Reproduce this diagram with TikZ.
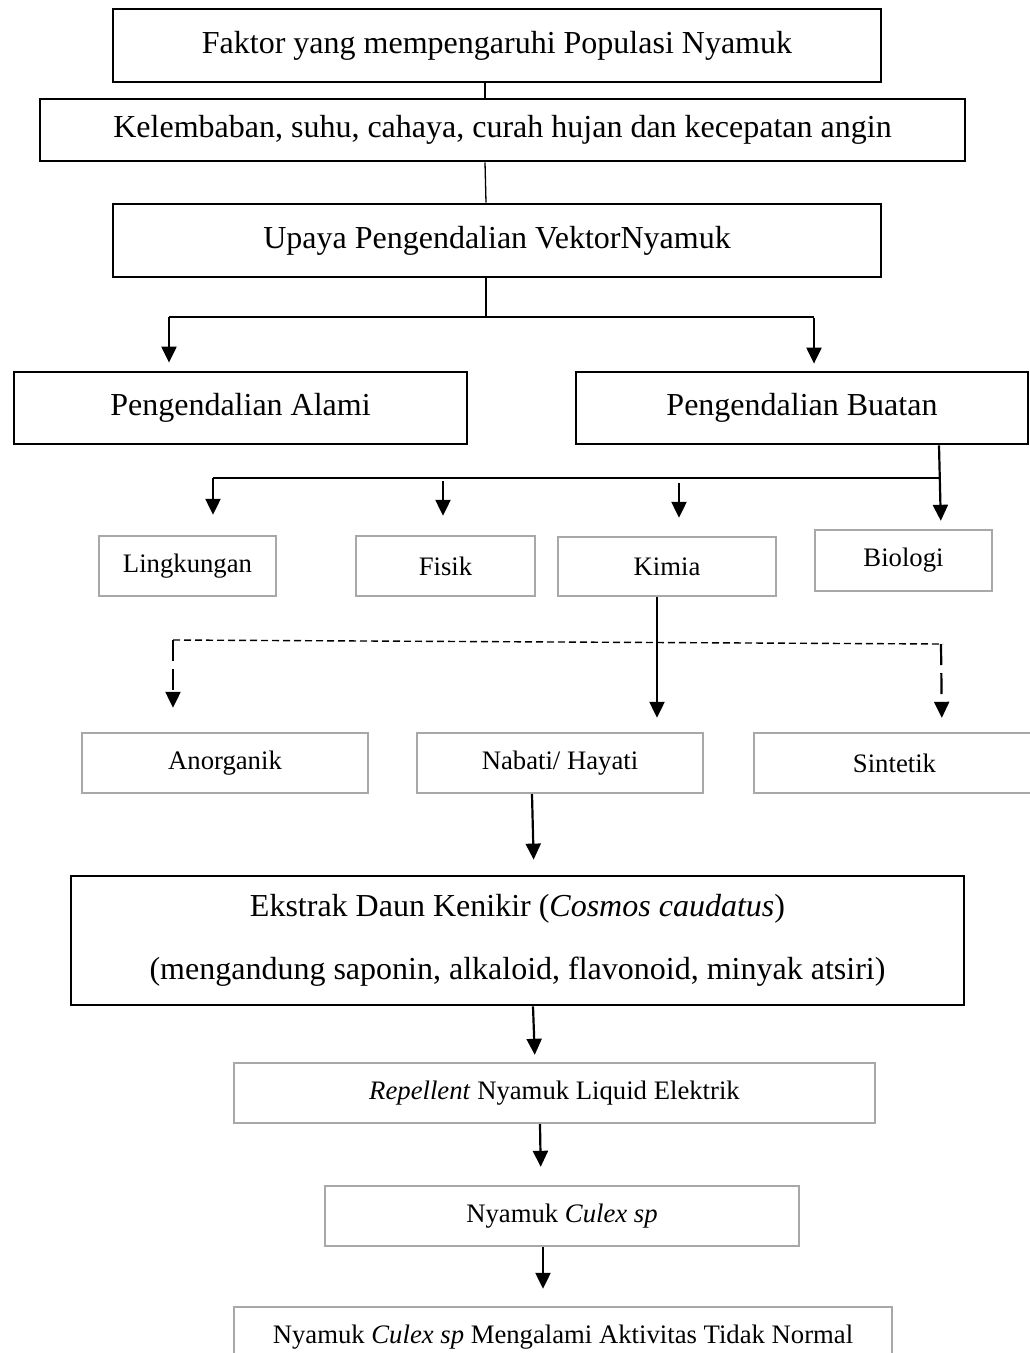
\documentclass[tikz,border=0pt]{standalone}
\usepackage{fontspec}
\setmainfont{Liberation Serif}
\usetikzlibrary{arrows.meta}
\definecolor{boxgray}{RGB}{168,168,168}
\begin{document}
\begin{tikzpicture}[x=1pt,y=-1pt,
  bigbox/.style={draw=black,line width=2.8pt,inner sep=0pt,font=\fontsize{32}{38}\selectfont},
  smallbox/.style={draw=boxgray,line width=2.4pt,inner sep=0pt,font=\fontsize{26.7}{32}\selectfont},
  thinline/.style={line width=1.3pt},
  arr/.style={line width=2.2pt,-{Triangle[length=16pt,width=15pt]}},
  dasharr/.style={line width=2.2pt,dash pattern=on 21pt off 8pt,-{Triangle[length=16pt,width=15pt]}},
  dashline/.style={line width=1.4pt,dash pattern=on 7pt off 4pt}]
\useasboundingbox (0,0) rectangle (1030,1353);
\fill[white] (0,0) rectangle (1030,1353);

% big boxes
\node[bigbox,minimum width=768pt,minimum height=73pt] (b1) at (497,45.5) {Faktor yang mempengaruhi Populasi Nyamuk};
\node[bigbox,minimum width=925pt,minimum height=62pt] (b2) at (502.5,130) {Kelembaban, suhu, cahaya, curah hujan dan kecepatan angin};
\node[bigbox,minimum width=768pt,minimum height=73pt] (b3) at (497,240.5) {Upaya Pengendalian VektorNyamuk};
\node[bigbox,minimum width=453pt,minimum height=72pt] (alami) at (240.5,408) {Pengendalian Alami};
\node[bigbox,minimum width=452pt,minimum height=72pt] (buatan) at (802,408) {Pengendalian Buatan};

% small boxes
\node[smallbox,minimum width=177pt,minimum height=60pt] (ling) at (187.5,566) {Lingkungan};
\node[smallbox,minimum width=179pt,minimum height=60pt] (fisik) at (445.5,566) {Fisik};
\node[smallbox,minimum width=218pt,minimum height=59pt] (kimia) at (667,566.5) {Kimia};
\node[smallbox,minimum width=177pt,minimum height=61pt] (bio) at (903.5,560.5) {Biologi};
\node[smallbox,minimum width=286pt,minimum height=60pt] (anorg) at (225,763) {Anorganik};
\node[smallbox,minimum width=286pt,minimum height=60pt] (nabati) at (560,763) {Nabati/ Hayati};
\node[smallbox,minimum width=281pt,minimum height=60pt] (sint) at (894.5,763) {Sintetik};

\node[bigbox,minimum width=893pt,minimum height=129pt,align=center,font=\fontsize{32}{63}\selectfont] (ekstrak) at (517.5,940.5)
  {Ekstrak Daun Kenikir (\textit{Cosmos caudatus})\\(mengandung saponin, alkaloid, flavonoid, minyak atsiri)};

\node[smallbox,minimum width=641pt,minimum height=60pt] (rep) at (554.5,1093) {\textit{Repellent} Nyamuk Liquid Elektrik};
\node[smallbox,minimum width=474pt,minimum height=60pt] (culex) at (562,1216) {Nyamuk \textit{Culex sp}};
\node[smallbox,minimum width=658pt,minimum height=60pt] (last) at (563,1337) {Nyamuk \textit{Culex sp} Mengalami Aktivitas Tidak Normal};

% connectors top
\coordinate (c1) at (485,0);
\coordinate (c2) at (486,0);
\draw[thinline] (b1.south -| c1) -- (b2.north -| c1);
\draw[thinline] (b2.south -| c1) -- (b3.north -| c2);
\coordinate (j1) at (486,317);
\coordinate (hL) at (169,317);
\coordinate (hR) at (814,317);
\coordinate (hR2) at (814,318);
\draw[thinline] (b3.south -| j1) -- (j1);
\draw[thinline] (hL) -- (hR);
\draw[arr,shorten >=8pt] (hL) -- (hL |- alami.north);
\draw[arr,shorten >=7pt] (hR2) -- (hR2 |- buatan.north);

% Buatan split
\coordinate (bx) at (939,0);
\coordinate (bt) at (941,0);
\coordinate (h2L) at (213,478);
\coordinate (h2R) at (939,478);
\coordinate (fs) at (443,481);
\coordinate (ks) at (679,483);
\draw[arr,shorten >=8pt] (buatan.south -| bx) -- (bio.north -| bt);
\draw[thinline] (h2L) -- (h2R);
\draw[arr,shorten >=20pt] (h2L) -- (h2L |- ling.north);
\draw[arr,shorten >=19pt] (fs) -- (fs |- fisik.north);
\draw[arr,shorten >=18pt] (ks) -- (ks |- kimia.north);

% Kimia split
\coordinate (kx) at (657,0);
\draw[arr,shorten >=14pt] (kimia.south -| kx) -- (nabati.north -| kx);
\coordinate (dL) at (173,640);
\coordinate (dR) at (943,644);
\coordinate (dR2) at (941,644);
\coordinate (dRt) at (942,0);
\draw[dashline] (dL) -- (dR);
\draw[dasharr,shorten >=24pt] (dL) -- (anorg.north -| dL);
\draw[dasharr,shorten >=14pt] (dR2) -- (sint.north -| dRt);

% lower chain
\coordinate (n1) at (532,0);
\coordinate (n2) at (534,0);
\draw[arr,shorten >=15pt] (nabati.south -| n1) -- (ekstrak.north -| n2);
\coordinate (e1) at (533,0);
\coordinate (e2) at (535,0);
\draw[arr,shorten >=7pt] (ekstrak.south -| e1) -- (rep.north -| e2);
\coordinate (r1) at (540,0);
\coordinate (r2) at (541,0);
\draw[arr,shorten >=18pt] (rep.south -| r1) -- (culex.north -| r2);
\coordinate (u1) at (543,0);
\draw[arr,shorten >=17pt] (culex.south -| u1) -- (last.north -| u1);
\end{tikzpicture}
\end{document}
